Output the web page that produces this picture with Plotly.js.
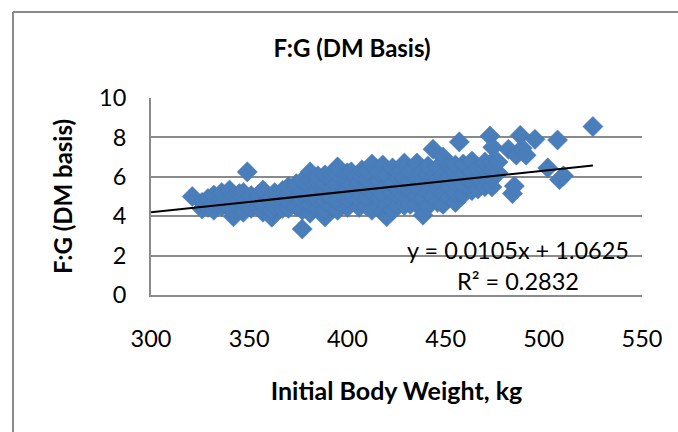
<!DOCTYPE html>
<html>
<head>
<meta charset="utf-8">
<script src="https://cdn.plot.ly/plotly-3.0.1.min.js"></script>
<style>html,body{margin:0;padding:0;background:#fff;overflow:hidden}#chart{width:678px;height:432px}</style>
</head>
<body>
<div id="chart"></div>
<script>
var initialWeight = [
 321, 326,326, 329,329, 332,332,332, 336,336,336, 340,340,340, 342,342,342, 345,345,345, 347,347, 349,
 351,351,351, 355,355,355, 357,357,357, 361.5,361.5,361.5,361.5, 363,363, 367,367,367, 370,370,370,370,
 374,374,374,374, 377,377,377,377,377, 381,381,381,381,381,381, 385,385,385,385,385,
 388.6,388.6,388.6,388.6,388.6,388.6, 392,392,392,392,392, 395,395,395,395,395,395,
 400,400,400,400,400, 402,402,402, 406,406,406,406,406, 407.4,407.4, 410,410,410,410,410,
 412.5,412.5,412.5, 416,416,416,416,416, 418,418,418, 420,420,420,420, 423,423,423,423,423,
 426,426,426,426, 429,429,429,429,429, 432,432,432,432, 435.4,435.4,435.4,435.4,435.4,
 438.5,438.5,438.5,438.5, 441,441,441,441,441, 443.6,443.6,443.6, 446,446,446,446,
 448.7,448.7,448.7,448.7, 452,452,452,452, 455,455,455,455,455, 457, 459,459,459,459,
 463.4,463.4,463.4,463.4, 466.5,466.5,466.5, 470,470,470,470, 473.6,473.6,473.6,473.6,
 472.6, 474, 476.7,476.7, 482, 484, 485, 486, 488, 489, 491, 495.5, 502, 507, 508, 510, 525
];
var feedToGain = [
 5.0, 4.37,4.7, 4.45,4.9, 4.3,4.65,5.07, 4.5,4.85,5.2, 4.35,4.7,5.33, 3.97,4.25,5.0, 4.5,4.85,5.15, 4.2,5.2, 6.25,
 4.4,4.75,5.05, 4.5,4.9,5.1, 4.2,4.6,5.33, 3.95,4.3,4.7,5.0, 4.5,5.2, 4.4,4.85,5.3, 4.4,4.75,5.15,5.5,
 4.5,4.95,5.4,5.65, 3.35,4.3,4.8,5.2,5.8, 4.15,4.6,5.05,5.5,5.85,6.25, 4.4,4.85,5.3,5.75,6.05,
 3.96,4.3,4.75,5.2,5.65,6.1, 4.5,4.95,5.4,5.85,6.15, 4.3,4.75,5.2,5.65,6.1,6.5,
 4.45,4.9,5.35,5.8,6.2, 5.1,5.6,6.25, 4.45,4.85,5.3,5.75,6.15, 5.05,6.35, 4.5,4.95,5.4,5.85,6.3,
 4.3,5.2,6.65, 4.5,4.9,5.35,5.8,6.25, 4.2,5.1,6.6, 3.97,4.55,5.55,6.1, 4.3,4.75,5.2,5.65,6.45,
 4.55,5.0,5.95,6.2, 4.55,5.05,5.5,5.95,6.7, 4.6,5.3,5.75,6.25, 4.6,5.05,5.5,5.95,6.7,
 4.05,4.9,5.75,6.3, 4.5,5.2,5.65,6.1,6.55, 5.0,5.9,7.4, 4.7,5.4,5.85,6.5,
 4.6,5.15,6.05,7.0, 4.95,5.5,6.0,6.6, 4.7,5.2,5.7,6.2,6.6, 7.77, 5.1,5.6,6.1,6.65,
 5.3,5.75,6.25,6.8, 5.38,5.9,6.4, 5.5,5.95,6.4,6.75, 5.48,5.9,6.35,6.75,
 8.07, 7.5, 6.2,6.75, 7.4, 5.15, 5.53, 7.1, 8.1, 7.45, 7.1, 7.9, 6.45, 7.87, 5.85, 6.05, 8.55
];
var trendX = [300, 525];
var trendY = [4.2, 6.57];
var titleText = 'F:G (DM Basis)';
var xTitleText = 'Initial Body Weight, kg';
var yTitleText = 'F:G (DM basis)';
var equationText = 'y = 0.0105x + 1.0625';
var rSquaredText = 'R² = 0.2832';

var font = 'Lato, Carlito, "Open Sans", sans-serif';
var m = {l:151, r:36, t:98, b:137};
var pw = 678 - m.l - m.r, ph = 432 - m.t - m.b;
var grey = '#8a8a8a';

Plotly.newPlot('chart', [
 {type:'scatter', mode:'markers', x:initialWeight, y:feedToGain,
  marker:{symbol:'diamond', size:15.5, color:'#4a7ebb', line:{color:'#4777b0', width:0.5}},
  showlegend:false, cliponaxis:false},
 {type:'scatter', mode:'lines', x:trendX, y:trendY,
  line:{color:'#000', width:2}, showlegend:false}
], {
 width:678, height:432, margin:m, paper_bgcolor:'#fff', plot_bgcolor:'#fff',
 font:{family:font, color:'#000', size:18},
 title:{text:'<b>'+titleText+'</b>', x:(352/678), xanchor:'center', y:1-49/432, yanchor:'middle', font:{family:font, size:24, color:'#000'}},
 xaxis:{range:[300,550], dtick:50, tick0:300, showgrid:false, zeroline:false, showline:true, linecolor:grey, linewidth:2,
  ticks:'outside', ticklen:22, tickcolor:'rgba(0,0,0,0)', tickfont:{family:font, size:23.5},
  title:{text:'<b>'+xTitleText+'</b>', standoff:31, font:{family:font, size:25}}},
 yaxis:{range:[0,10], dtick:2, tick0:0, showgrid:true, gridcolor:grey, gridwidth:2, zeroline:false, showline:true, linecolor:grey, linewidth:2,
  ticks:'outside', ticklen:18, tickcolor:'rgba(0,0,0,0)', tickfont:{family:font, size:23.5},
  title:{text:'<b>'+yTitleText+'</b>', standoff:20, font:{family:font, size:24}}},
 shapes:[
  {type:'line', xref:'paper', yref:'paper', x0:(13-m.l)/pw, x1:(678-m.l)/pw, y0:1+(m.t-12)/ph, y1:1+(m.t-12)/ph, line:{color:grey, width:2}},
  {type:'line', xref:'paper', yref:'paper', x0:(13-m.l)/pw, x1:(13-m.l)/pw, y0:1+(m.t-12)/ph, y1:-m.b/ph, line:{color:grey, width:2}}
 ],
 annotations:[
  {text:equationText, xref:'x', yref:'y', x:487, y:2.3, showarrow:false, xanchor:'center', yanchor:'middle', font:{family:font, size:23.5, color:'#000'}},
  {text:rSquaredText, xref:'x', yref:'y', x:487, y:0.73, showarrow:false, xanchor:'center', yanchor:'middle', font:{family:font, size:23.5, color:'#000'}}
 ]
}, {displayModeBar:false, staticPlot:true});
</script>
</body>
</html>
